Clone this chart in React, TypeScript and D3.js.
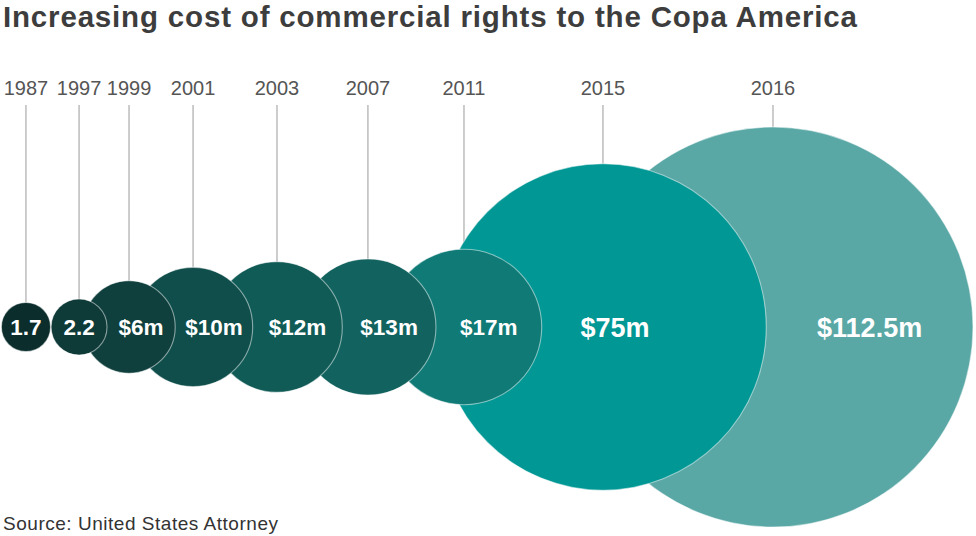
import * as d3 from 'd3';
import React from 'react';

// chart data
const years: string[] = ['1987', '1997', '1999', '2001', '2003', '2007', '2011', '2015', '2016'];
const costs: number[] = [1.7, 2.2, 6, 10, 12, 13, 17, 75, 112.5];
const valueLabels: string[] = ['1.7', '2.2', '$6m', '$10m', '$12m', '$13m', '$17m', '$75m', '$112.5m'];
const fills: string[] = ['#0b2e2c', '#0e3a38', '#0f403e', '#0f4e4b', '#115b57', '#12635f', '#0f7a76', '#009794', '#5aa8a6'];

const title = 'Increasing cost of commercial rights to the Copa America';
const source = 'Source: United States Attorney';

interface Bubble {
    year: string;
    value: number;
    label: string;
    fill: string;
    cx: number;
    r: number;
    labelX: number;
}

const font = "'Liberation Sans', Arial, sans-serif";

export default function App() {
    const width = 976;
    const height = 536;
    const cy = 327;
    const lineTop = 105;

    // bubble area is proportional to the cost
    const rScale = d3.scaleSqrt().domain([0, d3.max(costs) as number]).range([0, 200]);

    // hand placed anchor points of the original layout (share of the width)
    const anchors = [0.0266, 0.081, 0.1322, 0.1978, 0.2838, 0.377, 0.4754, 0.6178, 0.792];
    const xScale = d3.scaleLinear().domain([0, 1]).range([0, width]);

    const bubbles: Bubble[] = years.map((year, i) => {
        const r = rScale(costs[i]);
        const cx = xScale(anchors[i]);
        return { year, value: costs[i], label: valueLabels[i], fill: fills[i], cx, r, labelX: cx };
    });
    // put the value in the visible part of each bubble (left side hidden by the smaller one on top)
    bubbles.forEach((b, i) => {
        if (i === 0) return;
        const prev = bubbles[i - 1];
        const visibleLeft = Math.max(prev.cx + prev.r, b.cx - b.r);
        b.labelX = (visibleLeft + b.cx + b.r) / 2;
    });
    bubbles[7].labelX = bubbles[7].cx + 12;

    const drawOrder = bubbles.slice().reverse();

    return (
        <div style={{ position: 'absolute', left: 0, top: 0 }}>
            <svg width={width} height={height} style={{ display: 'block', background: '#fff' }}>
                <text x={3} y={27} fontFamily={font} fontWeight="bold" fontSize={29.5}
                    textLength={854} lengthAdjust="spacing" fill="#3d3d3d">{title}</text>
                <g className="leaders">
                    {bubbles.map(b => (
                        <g key={b.year}>
                            <line x1={b.cx} x2={b.cx} y1={lineTop} y2={cy - b.r} stroke="#9a9a9a" strokeWidth={1} />
                            <text x={b.cx} y={95} textAnchor="middle" fontFamily={font}
                                fontSize={20} fill="#555">{b.year}</text>
                        </g>
                    ))}
                </g>
                <g className="bubbles">
                    {drawOrder.map(b => (
                        <circle key={b.year} cx={b.cx} cy={cy} r={b.r} fill={b.fill}
                            stroke="#ffffff" strokeOpacity={0.5} strokeWidth={1.1} />
                    ))}
                </g>
                <g className="values">
                    {bubbles.map(b => (
                        <text key={b.year} x={b.labelX} y={cy} dy="0.36em" textAnchor="middle"
                            fontFamily={font} fontWeight="bold"
                            fontSize={b.value > 50 ? 27 : 22.5} fill="#fff">{b.label}</text>
                    ))}
                </g>
                <text x={3} y={530} fontFamily={font} fontSize={19} textLength={275}
                    lengthAdjust="spacing" fill="#333">{source}</text>
            </svg>
        </div>
    );
}
